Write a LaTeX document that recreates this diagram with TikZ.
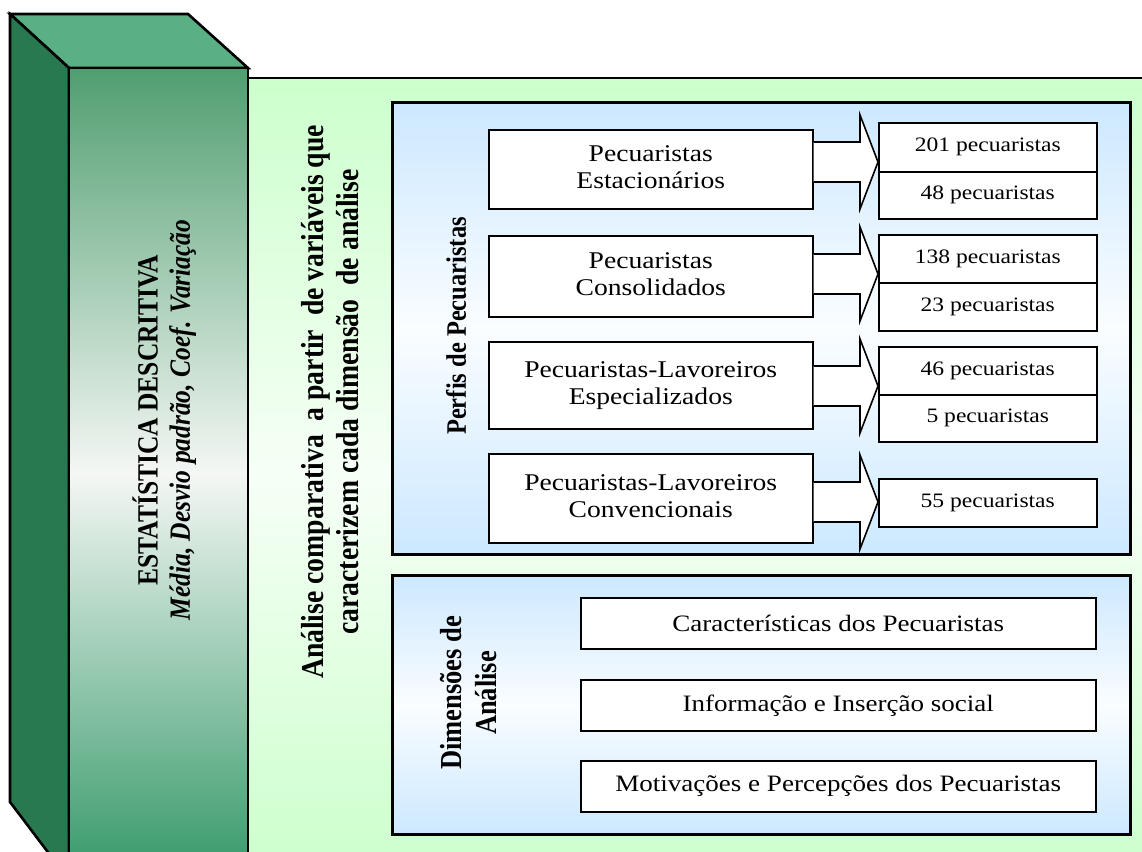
\documentclass[tikz,border=0pt]{standalone}
\usepackage{fontspec}
\usepackage{graphicx}
\setmainfont{Liberation Serif}
\usetikzlibrary{calc}

\definecolor{pgreen}{RGB}{204,255,204}
\definecolor{pgreenmid}{RGB}{246,255,246}
\definecolor{pblue}{RGB}{204,232,255}
\definecolor{pbluemid}{RGB}{250,253,255}
\definecolor{cubetop}{RGB}{91,175,133}
\definecolor{cubeside}{RGB}{40,121,80}
\definecolor{cubefronttop}{RGB}{80,158,112}
\definecolor{cubefrontmid}{RGB}{244,247,244}
\definecolor{cubefrontbot}{RGB}{52,152,104}

% horizontal stretch of the lettering
\newcommand\hstretch[1]{\scalebox{1.15}[1]{#1}}
\newcommand\vstretch[1]{\scalebox{1.15}[1]{\rotatebox{90}{#1}}}
\newcommand\twolines[2]{\begin{tabular}{@{}c@{}}#1\\#2\end{tabular}}

\begin{document}
\begin{tikzpicture}[x=1pt,y=-1pt,
  cubeline/.style={draw=black,line width=2.6pt,line join=miter},
  panel/.style={draw=black,line width=3pt,anchor=north west,inner sep=0pt,
     top color=pblue,bottom color=pblue,middle color=pbluemid},
  lbox/.style={draw=black,line width=1.5pt,fill=white,anchor=north west,inner sep=0pt,
     minimum width=324pt,font=\fontsize{24}{27}\selectfont},
  rbox/.style={draw=black,line width=1.5pt,fill=white,anchor=north west,inner sep=0pt,
     minimum width=218pt,font=\fontsize{20.5}{23}\selectfont},
  dbox/.style={draw=black,line width=1.5pt,fill=white,anchor=north west,inner sep=0pt,
     minimum width=515pt,minimum height=51pt,font=\fontsize{23.5}{27}\selectfont},
  barrow/.style={draw=black,line width=1.6pt,fill=white,line join=miter},
  vlabel/.style={inner sep=0pt}]

\useasboundingbox (0,0) rectangle (1142,851);
\clip (0,0) rectangle (1142,851);

% light green background panel
\fill[top color=pgreen,bottom color=pgreen,middle color=pgreenmid] (248,78) rectangle (1160,870);
\draw[line width=2pt] (248,78) -- (1160,78);

% the 3D block on the left
\filldraw[cubeline,fill=cubetop] (10,14) -- (188,14) -- (248,68) -- (69,68) -- cycle;
\filldraw[cubeline,fill=cubeside] (10,14) -- (69,68) -- (69,880) -- (10,802) -- cycle;
\draw[cubeline,top color=cubefronttop,bottom color=cubefrontbot,middle color=cubefrontmid]
  (69,68) rectangle (248,880);
\node[vlabel] (stat) at (166,420) {\vstretch{\fontsize{25.5}{28}\selectfont
  \twolines{\bfseries ESTATÍSTICA DESCRITIVA}{\bfseries\itshape Média, Desvio padrão, Coef. Variação}}};

% vertical caption in the green panel
\node[vlabel] (cmp) at (334,402) {\vstretch{\fontsize{27.7}{30}\selectfont\bfseries
  \twolines{Análise comparativa~ a partir~ de variáveis que}{caracterizem cada dimensão~ de análise}}};

% blue panels
\node[panel,minimum width=738pt,minimum height=452pt] (pp) at (391,101) {};
\node[panel,minimum width=738pt,minimum height=259pt] (pd) at (391,574) {};

\node[vlabel] (lblp) at (456,326) {\vstretch{\fontsize{24.5}{27}\selectfont\bfseries Perfis de Pecuaristas}};
\node[vlabel] (lbld) at (472,693) {\vstretch{\fontsize{26.5}{30}\selectfont\bfseries
  \twolines{Dimensões de}{Análise}}};

% profile boxes
\node[lbox,minimum height=79pt] (l1) at (488,129) {\hstretch{\twolines{Pecuaristas}{Estacionários}}};
\node[lbox,minimum height=81pt] (l2) at (488,235) {\hstretch{\twolines{Pecuaristas}{Consolidados}}};
\node[lbox,minimum height=87pt] (l3) at (488,341) {\hstretch{\twolines{Pecuaristas-Lavoreiros}{Especializados}}};
\node[lbox,minimum height=89pt] (l4) at (488,453) {\hstretch{\twolines{Pecuaristas-Lavoreiros}{Convencionais}}};

% count boxes
\node[rbox,minimum height=49pt] (r1a) at (878,122) {\hstretch{201 pecuaristas}};
\node[rbox,minimum height=47pt] (r1b) at (878,171) {\hstretch{48 pecuaristas}};
\node[rbox,minimum height=48pt] (r2a) at (878,234) {\hstretch{138 pecuaristas}};
\node[rbox,minimum height=48pt] (r2b) at (878,282) {\hstretch{23 pecuaristas}};
\node[rbox,minimum height=48pt] (r3a) at (878,346) {\hstretch{46 pecuaristas}};
\node[rbox,minimum height=47pt] (r3b) at (878,394) {\hstretch{5 pecuaristas}};
\node[rbox,minimum height=48pt] (r4) at (878,478) {\hstretch{55 pecuaristas}};

% block arrows from each profile to its counts
\coordinate (t1) at (878,162);
\coordinate (t2) at (878,274);
\coordinate (t3) at (878,386);
\coordinate (t4) at (878,502);
\newcommand\blockarrow[2]{%
  \draw[barrow] ($(#1.east |- #2)+(0,-20)$) -- ($(#2)+(-18,-20)$) -- ($(#2)+(-18,-47)$)
    -- (#2) -- ($(#2)+(-18,47)$) -- ($(#2)+(-18,20)$) -- ($(#1.east |- #2)+(0,20)$);}
\blockarrow{l1}{t1}
\blockarrow{l2}{t2}
\blockarrow{l3}{t3}
\blockarrow{l4}{t4}

% analysis dimensions
\node[dbox] (d1) at (580,597) {\hstretch{Características dos Pecuaristas}};
\node[dbox] (d2) at (580,679) {\hstretch{Informação e Inserção social}};
\node[dbox] (d3) at (580,760) {\hstretch{Motivações e Percepções dos Pecuaristas}};
\end{tikzpicture}
\end{document}
